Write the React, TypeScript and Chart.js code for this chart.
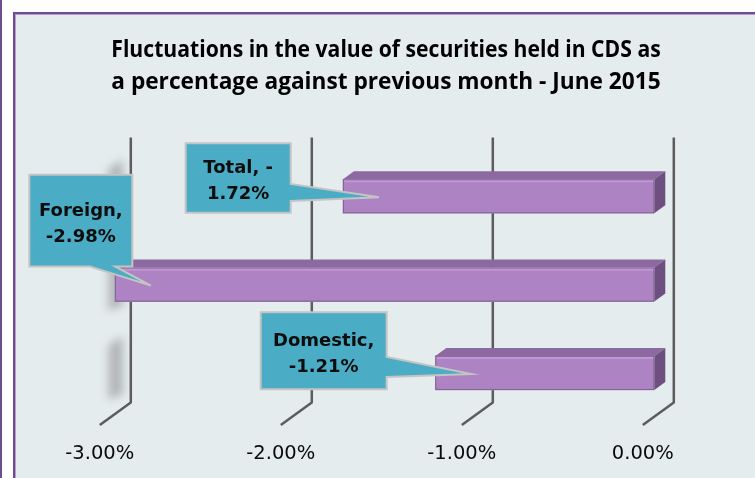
import React, { useEffect, useRef } from 'react';
import { Chart, registerables } from 'chart.js';

Chart.register(...registerables);

// ---------- data ----------
const categories = ['Total', 'Foreign', 'Domestic'];
const values = [-1.72, -2.98, -1.21];
const tickValues = [-3, -2, -1, 0];
const titleLines = [
  'Fluctuations in the value of securities held in CDS as',
  'a percentage against previous month - June 2015',
];

const pct = (v: number) => `${v.toFixed(2)}%`;

// callout text lines (Excel wrapped the Total label after the hyphen)
const calloutLines = categories.map((c, i) => {
  const s = `${c}, ${pct(values[i])}`;
  if (c === 'Total') {
    const k = s.indexOf('-') + 1;
    return [s.slice(0, k), s.slice(k)];
  }
  return [`${c},`, pct(values[i])];
});

// ---------- layout / style ----------
const W = 755;
const H = 478;
const BACK = { dx: 19.5, dy: -14.5 };
const FRONT = { dx: -11.5, dy: 8 };
const DEPTH = { dx: 11, dy: -8 };

// callout boxes relative to bar's value end (x) and bar centre (y)
const calloutLayout = [
  { box: [-157.3, -52.3, -53, 16.4], side: 'right', base: [-12.3, 4.7] },
  { box: [-85.6, 17.4, -109.8, -18.1], side: 'bottom', base: [-24.9, 0.1] },
  { box: [-174.6, -48.6, -60.7, 16.3], side: 'right', base: [-16, 4] },
];
const TIP = [36, 1];

const bgPlugin = {
  id: 'bgPlugin',
  beforeDraw(chart: any) {
    const ctx = chart.ctx;
    ctx.save();
    ctx.fillStyle = '#ffffff';
    ctx.fillRect(0, 0, W, H);
    ctx.fillStyle = '#6e4d8e';
    ctx.fillRect(0, 0, 2, H);
    ctx.fillStyle = '#e4ecee';
    ctx.fillRect(13, 12, W, H);
    ctx.strokeStyle = '#6e4d8e';
    ctx.lineWidth = 2;
    ctx.strokeRect(14, 13, W + 20, H + 20);
    ctx.strokeStyle = '#b39cc8';
    ctx.lineWidth = 1;
    ctx.strokeRect(15.5, 14.5, W + 20, H + 20);
    ctx.restore();
  },
};

const wallPlugin = {
  id: 'wallPlugin',
  beforeDatasetsDraw(chart: any) {
    const ctx = chart.ctx;
    const xs = chart.scales.x;
    const { top, bottom, left } = chart.chartArea;
    ctx.save();
    // bar shadows on the side wall
    const meta = chart.getDatasetMeta(0);
    meta.data.forEach((el: any) => {
      const t = el.y - el.height / 2 + DEPTH.dy;
      const b = el.y + el.height / 2;
      ctx.save();
      ctx.filter = 'blur(4px)';
      const g = ctx.createLinearGradient(left - 5, 0, left + 13, 0);
      g.addColorStop(0, 'rgba(140,140,140,0.25)');
      g.addColorStop(0.5, 'rgba(130,130,130,0.6)');
      g.addColorStop(1, 'rgba(150,150,150,0.45)');
      ctx.fillStyle = g;
      ctx.beginPath();
      ctx.moveTo(left - 4, t - 2);
      ctx.lineTo(left + 12, t - 12);
      ctx.lineTo(left + 12, b + 4);
      ctx.lineTo(left - 4, b + 10);
      ctx.closePath();
      ctx.fill();
      ctx.restore();
    });
    // gridlines: back wall + floor diagonal
    ctx.strokeStyle = '#5c5c5c';
    ctx.lineWidth = 2.5;
    ctx.lineJoin = 'round';
    tickValues.forEach((v) => {
      const px = xs.getPixelForValue(v);
      ctx.beginPath();
      ctx.moveTo(px + BACK.dx, top + BACK.dy);
      ctx.lineTo(px + BACK.dx, bottom + BACK.dy);
      ctx.lineTo(px + FRONT.dx, bottom + FRONT.dy);
      ctx.stroke();
    });
    ctx.restore();
  },
};

const bar3dPlugin = {
  id: 'bar3dPlugin',
  afterDatasetsDraw(chart: any) {
    const ctx = chart.ctx;
    const meta = chart.getDatasetMeta(0);
    ctx.save();
    meta.data.forEach((el: any) => {
      const l = Math.min(el.x, el.base);
      const r = Math.max(el.x, el.base);
      const t = el.y - el.height / 2;
      const b = el.y + el.height / 2;
      // top face
      ctx.fillStyle = '#8c6aa0';
      ctx.beginPath();
      ctx.moveTo(l, t);
      ctx.lineTo(r, t);
      ctx.lineTo(r + DEPTH.dx, t + DEPTH.dy);
      ctx.lineTo(l + DEPTH.dx, t + DEPTH.dy);
      ctx.closePath();
      ctx.fill();
      // end face
      ctx.fillStyle = '#6d5080';
      ctx.beginPath();
      ctx.moveTo(r, t);
      ctx.lineTo(r + DEPTH.dx, t + DEPTH.dy);
      ctx.lineTo(r + DEPTH.dx, b + DEPTH.dy);
      ctx.lineTo(r, b);
      ctx.closePath();
      ctx.fill();
      // highlight
      ctx.fillStyle = '#c396d8';
      ctx.fillRect(l + 1, t, r - l - 1, 3);
      // outline
      ctx.strokeStyle = 'rgba(110,90,125,0.7)';
      ctx.lineWidth = 1;
      ctx.strokeRect(l + 0.5, t + 0.5, r - l - 1, b - t - 1);
    });
    ctx.restore();
  },
};

const calloutPlugin = {
  id: 'calloutPlugin',
  afterDatasetsDraw(chart: any) {
    const ctx = chart.ctx;
    const meta = chart.getDatasetMeta(0);
    ctx.save();
    meta.data.forEach((el: any, i: number) => {
      const L = calloutLayout[i];
      const x0 = el.x;
      const y0 = el.y;
      const bl = x0 + L.box[0];
      const br = x0 + L.box[1];
      const bt = y0 + L.box[2];
      const bb = y0 + L.box[3];
      const tx = x0 + TIP[0];
      const ty = y0 + TIP[1];
      ctx.beginPath();
      ctx.moveTo(bl, bt);
      ctx.lineTo(br, bt);
      if (L.side === 'right') {
        ctx.lineTo(br, y0 + L.base[0]);
        ctx.lineTo(tx, ty);
        ctx.lineTo(br, y0 + L.base[1]);
        ctx.lineTo(br, bb);
        ctx.lineTo(bl, bb);
      } else {
        ctx.lineTo(br, bb);
        ctx.lineTo(x0 + L.base[1], bb);
        ctx.lineTo(tx, ty);
        ctx.lineTo(x0 + L.base[0], bb);
        ctx.lineTo(bl, bb);
      }
      ctx.closePath();
      ctx.fillStyle = '#4bacc6';
      ctx.fill();
      ctx.strokeStyle = '#c4c4c4';
      ctx.lineWidth = 2;
      ctx.lineJoin = 'miter';
      ctx.stroke();
      // text
      const cx = (bl + br) / 2;
      const cy = (bt + bb) / 2;
      ctx.fillStyle = '#0d0d0d';
      ctx.font = 'bold 18px "DejaVu Sans"';
      ctx.textAlign = 'center';
      ctx.textBaseline = 'alphabetic';
      const lines = calloutLines[i];
      ctx.fillText(lines[0], cx, cy - 4.5);
      ctx.fillText(lines[1], cx, cy + 21.5);
    });
    ctx.restore();
  },
};

export default function App() {
  const ref = useRef<HTMLCanvasElement | null>(null);

  useEffect(() => {
    document.body.style.margin = '0';
    if (!ref.current) return;
    const chart = new Chart(ref.current, {
      type: 'bar',
      data: {
        labels: categories,
        datasets: [
          {
            data: values,
            backgroundColor: '#ae83c4',
            borderWidth: 0,
            barThickness: 34,
          },
        ],
      },
      options: {
        indexAxis: 'y',
        animation: false,
        responsive: false,
        devicePixelRatio: 1,
        layout: { padding: { left: 111.3, right: 94.3, top: 0, bottom: 0 } },
        scales: {
          x: {
            type: 'linear',
            position: 'bottom',
            min: -3,
            max: 0,
            afterBuildTicks: (s: any) => {
              s.ticks = tickValues.map((v) => ({ value: v }));
            },
            afterFit: (s: any) => {
              s.height = 60.9;
            },
            grid: { display: false, drawTicks: false },
            border: { display: false },
            ticks: {
              autoSkip: false,
              maxRotation: 0,
              padding: 25,
              labelOffset: -11.5,
              color: '#0a0a0a',
              font: { family: '"DejaVu Sans"', size: 19.5 },
              callback: (v: any) => pct(Number(v)),
            },
          },
          y: {
            type: 'category',
            display: false,
          },
          y2: {
            type: 'linear',
            position: 'right',
            display: true,
            grid: { display: false, drawTicks: false },
            border: { display: false },
            ticks: { display: false },
            afterFit: (s: any) => {
              s.width = 6.4;
            },
          },
        },
        plugins: {
          legend: { display: false },
          tooltip: { enabled: false },
          title: {
            display: true,
            text: titleLines,
            color: '#000000',
            font: { family: '"Open Sans"', weight: 'bold', size: 22.7, lineHeight: 32 / 22.7 },
            padding: { top: 34.2, bottom: 53.9 },
          },
        },
      },
      plugins: [bgPlugin, wallPlugin, bar3dPlugin, calloutPlugin],
    });
    return () => chart.destroy();
  }, []);

  return (
    <div style={{ width: W, height: H }}>
      <canvas ref={ref} width={W} height={H} />
    </div>
  );
}
